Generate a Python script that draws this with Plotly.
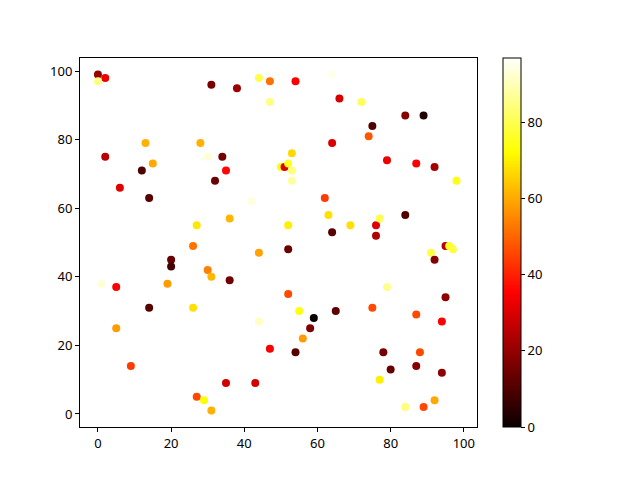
import plotly.graph_objects as go

x_vals = [0, 2, 0, 31, 38, 44, 47, 54, 64, 47, 66, 72, 25, 2, 13, 15, 12, 28, 30, 34,
          35, 32, 6, 14, 42, 27, 36, 26, 20, 20, 1, 5, 19, 30, 31, 36, 44, 5, 14, 26,
          9, 35, 43, 27, 29, 31, 44, 47, 50, 51, 52, 53, 53, 53, 52, 52, 52, 55, 56, 58,
          59, 54, 65, 62, 63, 64, 64, 69, 74, 75, 76, 76, 77, 79, 84, 89, 87, 92, 98, 84,
          91, 92, 95, 96, 97, 79, 75, 87, 95, 94, 78, 80, 88, 87, 94, 77, 84, 89, 92]
y_vals = [99, 98, 97, 96, 95, 98, 97, 97, 99, 91, 92, 91, 86, 75, 79, 73, 71, 79, 75, 75,
          71, 68, 66, 63, 62, 55, 57, 49, 45, 43, 38, 37, 38, 42, 40, 39, 47, 25, 31, 31,
          14, 9, 9, 5, 4, 1, 27, 19, 72, 72, 73, 76, 71, 68, 55, 48, 35, 30, 22, 25,
          28, 18, 30, 63, 58, 53, 79, 55, 81, 84, 55, 52, 57, 74, 87, 87, 73, 72, 68, 58,
          47, 45, 49, 49, 48, 37, 31, 29, 34, 27, 18, 13, 18, 14, 12, 10, 2, 2, 4]
c_vals = [20, 33, 85, 16, 21, 80, 52, 35, 95, 85, 29, 81, 97, 25, 61, 60, 10, 61, 93, 15,
          36, 14, 31, 11, 94, 69, 62, 52, 13, 8, 93, 35, 58, 54, 62, 15, 59, 58, 11, 68,
          44, 29, 29, 46, 73, 61, 91, 35, 74, 30, 76, 67, 84, 88, 70, 14, 46, 74, 58, 17,
          0, 11, 12, 44, 68, 11, 30, 68, 48, 10, 31, 24, 80, 33, 18, 3, 35, 22, 74, 10,
          79, 18, 25, 76, 78, 86, 46, 46, 19, 35, 16, 13, 46, 18, 19, 70, 84, 46, 60]

cbar_ticks = [0, 20, 40, 60, 80]
x_ticks = [0, 20, 40, 60, 80, 100]
y_ticks = [0, 20, 40, 60, 80, 100]

hot = [[0.0, "rgb(11,0,0)"], [0.365079, "rgb(255,0,0)"],
       [0.746032, "rgb(255,255,0)"], [1.0, "rgb(255,255,255)"]]

font = dict(family="Noto Sans, DejaVu Sans, sans-serif", size=13, color="black")

fig = go.Figure(go.Scatter(
    x=x_vals, y=y_vals, mode="markers",
    marker=dict(size=8, color=c_vals, colorscale=hot, cmin=0, cmax=97,
                line=dict(width=0),
                colorbar=dict(thickness=18, len=1, lenmode="fraction", x=1.0655,
                              xanchor="left", y=0.5, yanchor="middle",
                              xpad=0, ypad=0,
                              outlinewidth=1, outlinecolor="black",
                              tickvals=cbar_ticks, ticks="outside", ticklen=4,
                              tickcolor="black", tickfont=font)),
    showlegend=False,
))

axis_common = dict(showgrid=False, zeroline=False, showline=True, linecolor="black",
                   linewidth=1, mirror=True, ticks="outside", ticklen=4,
                   tickcolor="black", tickfont=font)

fig.update_layout(
    width=640, height=480,
    margin=dict(l=80, r=163, t=58, b=53),
    paper_bgcolor="white", plot_bgcolor="white",
    xaxis=dict(range=[-4.9, 103.6], tickvals=x_ticks, **axis_common),
    yaxis=dict(range=[-3.8, 103.8], tickvals=y_ticks, **axis_common),
    font=font,
)

fig.write_html("out.html", config={"displayModeBar": False},
               post_script="document.body.style.margin='0';")
